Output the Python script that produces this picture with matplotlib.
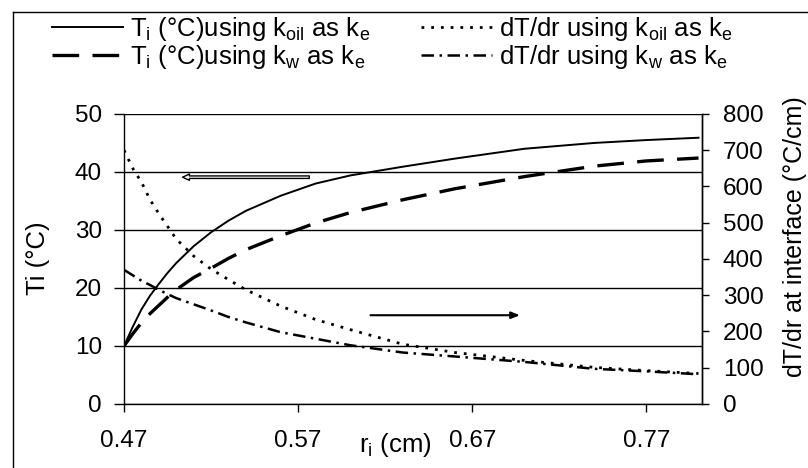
import matplotlib
matplotlib.use("Agg")
import matplotlib.pyplot as plt
from matplotlib.lines import Line2D

plt.rcParams['font.family'] = ['Liberation Sans', 'DejaVu Sans']
plt.rcParams['mathtext.default'] = 'regular'

# radius r_i (cm)
r = [0.47, 0.475, 0.48, 0.485, 0.49, 0.495, 0.50, 0.51, 0.52, 0.53,
     0.54, 0.56, 0.58, 0.60, 0.63, 0.66, 0.70, 0.74, 0.77, 0.80]
# interface temperature (°C)
t_oil = [10, 13.3, 16.3, 18.7, 20.7, 22.6, 24.3, 27.2, 29.6, 31.6,
         33.3, 35.9, 38.0, 39.4, 40.9, 42.3, 44.0, 45.0, 45.5, 45.9]
t_w = [10, 12.1, 14.0, 15.6, 17.0, 18.4, 19.7, 21.8, 23.4, 25.1,
       26.6, 29.0, 31.2, 33.0, 35.2, 37.1, 39.2, 41.0, 41.9, 42.4]
# temperature gradient at interface (°C/cm)
dt_oil = [700, 650, 612, 563, 525, 490, 455, 408, 372, 343,
          315, 270, 233, 205, 165, 142, 120, 101, 92, 84]
dt_w = [370, 355, 340, 328, 315, 303, 292, 275, 258, 240,
        225, 198, 180, 162, 142, 131, 116, 97, 90, 82]

xticks = [0.47, 0.57, 0.67, 0.77]
fs = 18.5
fs_tick = 17.5

fig = plt.figure(figsize=(8.08, 4.68), dpi=100)
ax = fig.add_axes([0.1535, 0.1368, 0.7153, 0.6197])
ax2 = ax.twinx()

l1, = ax.plot(r, t_oil, color='black', lw=1.4, ls='-')
l2, = ax.plot(r, t_w, color='black', lw=2.4, ls=(0, (8, 4)))
l3, = ax2.plot(r, dt_oil, color='black', lw=2.0, ls=(0, (1, 2.5)))
l4, = ax2.plot(r, dt_w, color='black', lw=1.8, ls=(0, (5, 2.2, 1, 2.2)))

ax.set_xlim(0.47, 0.802)
ax.set_ylim(0, 50)
ax2.set_ylim(0, 800)
ax.set_xticks(xticks)
ax.set_xticklabels([f'{v:.2f}' for v in xticks])
ax.set_yticks(range(0, 51, 10))
ax2.set_yticks(range(0, 801, 100))

ax.grid(axis='y', color='black', lw=1.0)
ax.set_axisbelow(True)
for a in (ax, ax2):
    a.spines['top'].set_visible(False)
    for s in a.spines.values():
        s.set_linewidth(1.0)
ax2.spines['left'].set_visible(False)
ax2.spines['bottom'].set_visible(False)

ax.tick_params(axis='x', direction='out', length=6, width=1, pad=13, labelsize=fs_tick)
ax.tick_params(axis='y', direction='out', length=7, width=1, pad=9, labelsize=fs_tick)
ax2.tick_params(axis='y', direction='out', length=5, width=1, pad=10, labelsize=fs_tick)

ax.set_ylabel('Ti (°C)', fontsize=fs, va='center')
ax.yaxis.set_label_coords(-0.149, 0.503)
ax2.set_ylabel('dT/dr at interface (°C/cm)', fontsize=fs - 0.5, va='center')
ax2.yaxis.set_label_coords(1.161, 0.576)
ax.set_xlabel('r$_i$ (cm)', fontsize=fs, va='center')
ax.xaxis.set_label_coords(0.47, -0.14)

# arrows pointing to each axis
ax.annotate('', xy=(0.502, 39.1), xytext=(0.578, 39.1),
            arrowprops=dict(arrowstyle='simple,head_length=0.5,head_width=0.45,tail_width=0.18',
                            fc='white', ec='black', lw=1.0))
ax.annotate('', xy=(0.699, 15.3), xytext=(0.610, 15.3),
            arrowprops=dict(arrowstyle='-|>,head_length=0.5,head_width=0.2',
                            color='black', lw=1.5))

labels = ['T$_i$ (°C)using k$_{oil}$ as k$_e$',
          'T$_i$ (°C)using k$_w$ as k$_e$',
          'dT/dr using k$_{oil}$ as k$_e$',
          'dT/dr using k$_w$ as k$_e$']
fig.legend([l1, l2, l3, l4], labels, ncol=2, loc='upper left',
           bbox_to_anchor=(0.064, 0.968), frameon=False, fontsize=fs,
           handlelength=2.76, handletextpad=0.27, columnspacing=2.0,
           labelspacing=0.0, borderpad=0, borderaxespad=0)

# outer chart border
fig.add_artist(Line2D([13 / 808, 13 / 808], [0, 1 - 12 / 468], color='black', lw=1.0))
fig.add_artist(Line2D([13 / 808, 1], [1 - 12 / 468, 1 - 12 / 468], color='black', lw=1.0))

fig.savefig('out.png', dpi=100)
